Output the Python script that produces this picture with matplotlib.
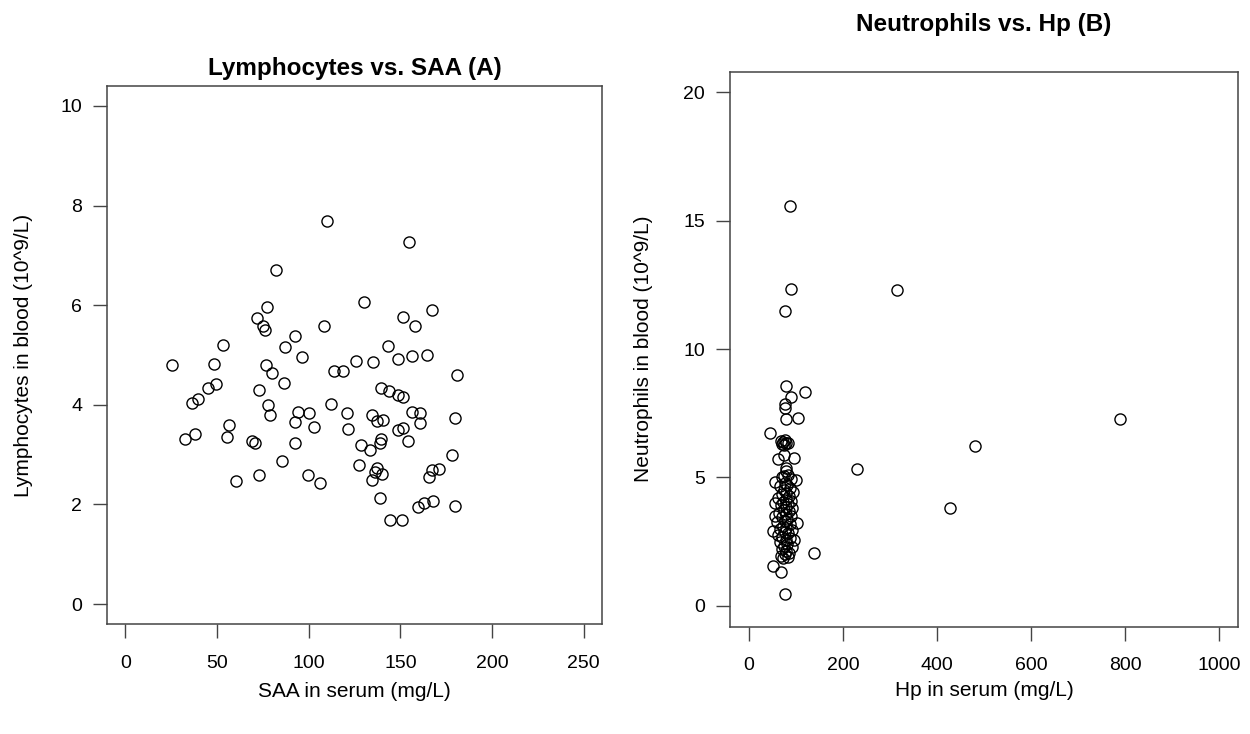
import matplotlib
matplotlib.use("Agg")
import matplotlib.pyplot as plt

plt.rcParams['font.family'] = ['Liberation Sans', 'DejaVu Sans']

# Panel A: SAA in serum (mg/L) vs lymphocytes in blood (10^9/L)
saa = [109.9, 82.3, 77.1, 71.7, 74.9, 76.3, 108.1, 53.3, 92.4, 87.0,
       96.1, 25.5, 48.4, 76.6, 79.9, 113.7, 118.6, 49.5, 45.3, 86.8,
       72.8, 39.5, 36.4, 77.7, 112.4, 79.0, 94.4, 100.4, 92.8, 120.8,
       56.6, 103.0, 37.8, 154.5, 130.3, 167.0, 151.2, 158.1, 143.4, 125.7,
       135.2, 148.9, 156.1, 164.3, 180.8, 139.7, 143.7, 148.9, 151.7, 134.3,
       137.0, 140.7, 156.1, 160.6, 160.6, 179.8, 121.7, 148.9, 151.4, 32.8,
       55.3, 68.9, 70.8, 92.6, 128.7, 133.4, 139.4, 139.0, 154.3, 85.2,
       127.2, 137.2, 140.1, 136.1, 134.8, 178.1, 167.2, 171.2, 165.9, 60.6,
       72.8, 99.5, 106.1, 139.0, 159.6, 162.7, 168.0, 180.0, 144.1, 150.8]
lymph = [7.69, 6.71, 5.97, 5.74, 5.58, 5.50, 5.58, 5.21, 5.39, 5.17,
         4.95, 4.80, 4.81, 4.79, 4.63, 4.68, 4.67, 4.41, 4.33, 4.44,
         4.29, 4.12, 4.04, 4.00, 4.02, 3.80, 3.86, 3.83, 3.66, 3.84,
         3.60, 3.56, 3.41, 7.27, 6.06, 5.90, 5.76, 5.58, 5.19, 4.87,
         4.86, 4.91, 4.97, 4.99, 4.60, 4.34, 4.27, 4.20, 4.16, 3.80,
         3.68, 3.69, 3.86, 3.84, 3.64, 3.74, 3.52, 3.49, 3.53, 3.32,
         3.35, 3.28, 3.23, 3.23, 3.19, 3.10, 3.31, 3.23, 3.28, 2.87,
         2.79, 2.74, 2.62, 2.66, 2.49, 2.99, 2.70, 2.72, 2.56, 2.47,
         2.60, 2.59, 2.43, 2.13, 1.94, 2.03, 2.06, 1.96, 1.69, 1.69]

# Panel B: Hp in serum (mg/L) vs neutrophils in blood (10^9/L)
hp = [315.9, 788.2, 480.1, 230.1, 427.7, 87.1, 89.2, 77.2,
      79.3, 119.6, 89.9, 77.1, 77.1, 78.0, 104.1, 44.6,
      68, 72, 76, 80, 74, 84, 70,
      75, 62.3, 97.1, 80.1, 55.2, 101.3, 75, 103.4, 55.2, 55.9, 51.7,
      97.1, 138.7, 51.7, 69.4, 77.1,
      78, 84, 70, 90, 76, 82, 66, 88, 74, 94, 80, 70, 86, 62, 78, 90,
      72, 84, 68, 80, 92, 74, 86, 64, 78, 90, 70, 82, 76, 60, 88, 72,
      80, 66, 92, 76, 84, 62, 70, 88, 78, 66, 82, 74, 92, 70, 80, 86,
      76, 68, 84, 72]
neut = [12.31, 7.28, 6.21, 5.33, 3.81, 15.58, 12.35, 11.48,
        8.57, 8.34, 8.12, 7.85, 7.69, 7.28, 7.30, 6.73,
        6.42, 6.38, 6.45, 6.33, 6.28, 6.36, 6.30,
        5.89, 5.72, 5.74, 5.37, 4.84, 4.89, 5.04, 3.23, 4.00, 3.49, 2.90,
        2.58, 2.06, 1.57, 1.32, 0.46,
        5.25, 5.10, 5.02, 4.95, 4.80, 4.72, 4.65, 4.60, 4.52, 4.45, 4.40,
        4.35, 4.28, 4.22, 4.18, 4.10, 4.05, 3.98, 3.92, 3.85, 3.80, 3.74,
        3.68, 3.62, 3.58, 3.50, 3.45, 3.40, 3.32, 3.25, 3.18, 3.12, 3.05,
        3.00, 2.95, 2.88, 2.82, 2.76, 2.70, 2.65, 2.55, 2.48, 2.40, 2.34,
        2.28, 2.22, 2.15, 2.08, 2.02, 1.95, 1.90, 1.85]

W, H = 1250, 734
fig = plt.figure(figsize=(W / 100, H / 100), dpi=100)

def box(l, t, r, b):
    return [l / W, 1 - b / H, (r - l) / W, (b - t) / H]

axA = fig.add_axes(box(107, 86, 602, 624))
axB = fig.add_axes(box(730, 71.5, 1238, 626.5))

def style(ax):
    for s in ax.spines.values():
        s.set_color('#444444')
        s.set_linewidth(1.1)
    ax.tick_params(direction='out', length=10, width=1.0, color='#444444',
                   labelsize=14, pad=12)
    ax.tick_params(axis='y', pad=8)

axA.plot(saa, lymph, 'o', mfc='none', mec='black', ms=8, mew=1.0)
axA.set_xlim(-10, 260)
axA.set_ylim(-0.4, 10.4)
axA.set_xticks([0, 50, 100, 150, 200, 250])
axA.set_yticks([0, 2, 4, 6, 8, 10])
axA.set_title('Lymphocytes vs. SAA (A)', fontsize=17.5, fontweight='bold', pad=8)
axA.set_xlabel('SAA in serum (mg/L)', fontsize=15)
axA.set_ylabel('Lymphocytes in blood (10^9/L)', fontsize=15)
axA.xaxis.set_label_coords(0.5, -0.107)
axA.yaxis.set_label_coords(-0.15, 0.5)
style(axA)

axB.plot(hp, neut, 'o', mfc='none', mec='black', ms=8, mew=1.0)
axB.set_xlim(-40, 1040)
axB.set_ylim(-0.8, 20.8)
axB.set_xticks([0, 200, 400, 600, 800, 1000])
axB.set_yticks([0, 5, 10, 15, 20])
axB.set_title('Neutrophils vs. Hp (B)', fontsize=17.5, fontweight='bold', pad=29)
axB.set_xlabel('Hp in serum (mg/L)', fontsize=15)
axB.set_ylabel('Neutrophils in blood (10^9/L)', fontsize=15)
axB.xaxis.set_label_coords(0.5, -0.099)
axB.yaxis.set_label_coords(-0.152, 0.5)
style(axB)

fig.savefig('out.png', dpi=100)
